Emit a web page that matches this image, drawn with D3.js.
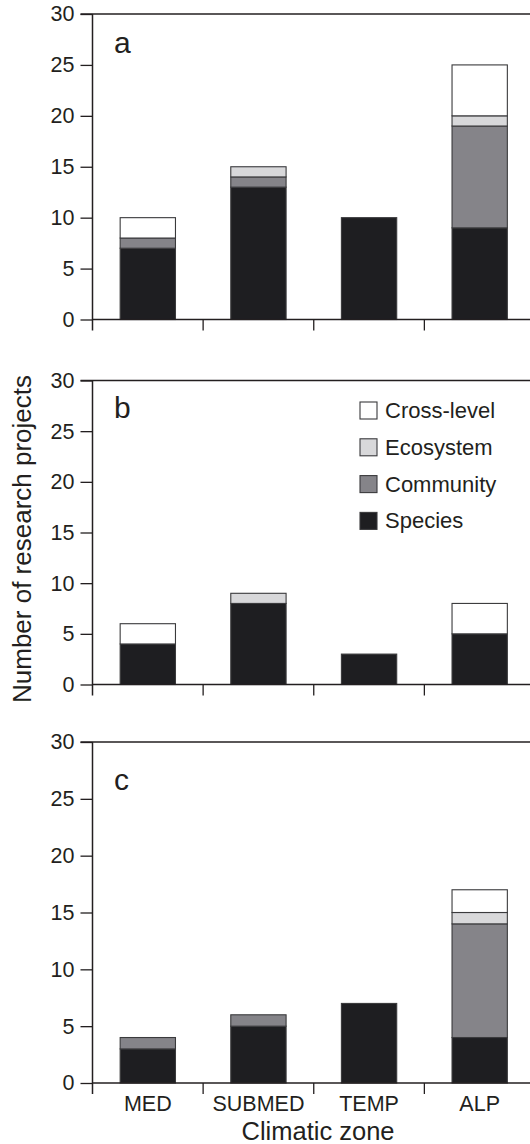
<!DOCTYPE html>
<html>
<head>
<meta charset="utf-8">
<script src="https://cdn.jsdelivr.net/npm/d3@7"></script>
<style>
  body { margin: 0; background: #fff; }
  svg { display: block; font-family: "Liberation Sans", Arial, Helvetica, sans-serif; }
  text { fill: #231f20; }
</style>
</head>
<body>
<div id="chart"></div>
<script>
// climatic zones on the x axis
var zones = ["MED", "SUBMED", "TEMP", "ALP"];
// stacking order, bottom to top
var levels = ["Species", "Community", "Ecosystem", "Cross-level"];
var yTicks = [0, 5, 10, 15, 20, 25, 30];

// number of research projects per level, one value per zone
var panelA = {
  "Species":     [7, 13, 10, 9],
  "Community":   [1, 1, 0, 10],
  "Ecosystem":   [0, 1, 0, 1],
  "Cross-level": [2, 0, 0, 5]
};
var panelB = {
  "Species":     [4, 8, 3, 5],
  "Community":   [0, 0, 0, 0],
  "Ecosystem":   [0, 1, 0, 0],
  "Cross-level": [2, 0, 0, 3]
};
var panelC = {
  "Species":     [3, 5, 7, 4],
  "Community":   [1, 1, 0, 10],
  "Ecosystem":   [0, 0, 0, 1],
  "Cross-level": [0, 0, 0, 2]
};

var svgWidth = 530;
var svgHeight = 1144;
var ink = "#231f20";

var fills = {
  "Species": "#1e1e21",
  "Community": "#858489",
  "Ecosystem": "#d8d8da",
  "Cross-level": "#ffffff"
};

var left = 92.5;
var right = 535; // plot runs past the right edge of the picture

// panel layout: top of the 30 line, zero line, letter baseline
var panels = [
  { id: "a", data: panelA, top: 14, bottom: 319.5, labelY: 53 },
  { id: "b", data: panelB, top: 380.5, bottom: 684.5, labelY: 418 },
  { id: "c", data: panelC, top: 742, bottom: 1083, labelY: 790 }
];

var svg = d3.select("#chart")
  .append("svg")
  .attr("width", svgWidth)
  .attr("height", svgHeight);

var xScale = d3.scaleBand()
  .domain(zones)
  .range([left, right])
  .paddingInner(0.5)
  .paddingOuter(0.25);

var step = xScale.step();

var stack = d3.stack().keys(levels);

panels.forEach(function(p) {
  var rows = zones.map(function(z, i) {
    var row = { zone: z };
    levels.forEach(function(l) { row[l] = p.data[l][i]; });
    return row;
  });

  var yScale = d3.scaleLinear()
    .domain([0, 30])
    .range([p.bottom, p.top]);

  var g = svg.append("g");

  // bars
  var series = stack(rows);
  g.selectAll("g.layer")
    .data(series)
    .enter()
    .append("g")
    .attr("class", "layer")
    .attr("fill", function(d) { return fills[d.key]; })
    .selectAll("rect")
    .data(function(d) { return d.filter(function(s) { return s[1] > s[0]; }); })
    .enter()
    .append("rect")
    .attr("x", function(d) { return xScale(d.data.zone); })
    .attr("width", xScale.bandwidth())
    .attr("y", function(d) { return yScale(d[1]); })
    .attr("height", function(d) { return yScale(d[0]) - yScale(d[1]); })
    .attr("stroke", "#3a3a3c")
    .attr("stroke-width", 1.1);

  // y axis
  var yAxis = d3.axisLeft(yScale)
    .tickValues(yTicks)
    .tickSize(12)
    .tickPadding(6);

  var ya = g.append("g")
    .attr("transform", "translate(" + left + ",0)")
    .call(yAxis);
  ya.select(".domain").remove();
  ya.selectAll(".tick line").attr("stroke", ink).attr("stroke-width", 1.3);
  ya.selectAll(".tick text")
    .style("font-size", "21.5px")
    .attr("font-family", null)
    .attr("fill", ink);

  // frame lines: left spine, top line, zero line
  g.append("line")
    .attr("x1", left).attr("x2", left)
    .attr("y1", p.top).attr("y2", p.bottom + 11)
    .attr("stroke", ink).attr("stroke-width", 1.5);
  g.append("line")
    .attr("x1", left - 12).attr("x2", right)
    .attr("y1", p.top).attr("y2", p.top)
    .attr("stroke", ink).attr("stroke-width", 1.5);
  g.append("line")
    .attr("x1", left).attr("x2", right)
    .attr("y1", p.bottom).attr("y2", p.bottom)
    .attr("stroke", ink).attr("stroke-width", 1.5);

  // ticks between zones
  g.selectAll("line.zonetick")
    .data(zones.slice(1))
    .enter()
    .append("line")
    .attr("class", "zonetick")
    .attr("x1", function(d) { return xScale(d) - step * 0.25; })
    .attr("x2", function(d) { return xScale(d) - step * 0.25; })
    .attr("y1", p.bottom)
    .attr("y2", p.bottom + 11)
    .attr("stroke", ink)
    .attr("stroke-width", 1.3);

  // panel letter
  g.append("text")
    .attr("x", 114)
    .attr("y", p.labelY)
    .style("font-size", "30px")
    .text(p.id);

  if (p.id === "b") {
    var legendRows = levels.slice().reverse();
    var lg = g.selectAll("g.legend")
      .data(legendRows)
      .enter()
      .append("g")
      .attr("class", "legend")
      .attr("transform", function(d, i) { return "translate(360," + (402 + i * 36.8) + ")"; });
    lg.append("rect")
      .attr("width", 17)
      .attr("height", 17)
      .attr("fill", function(d) { return fills[d]; })
      .attr("stroke", "#3a3a3c")
      .attr("stroke-width", 1.1);
    lg.append("text")
      .attr("x", 25)
      .attr("y", 16)
      .style("font-size", "22px")
      .text(function(d) { return d; });
  }

  if (p.id === "c") {
    g.selectAll("text.zone")
      .data(zones)
      .enter()
      .append("text")
      .attr("class", "zone")
      .attr("x", function(d) { return xScale(d) + xScale.bandwidth() / 2; })
      .attr("y", 1110.5)
      .attr("text-anchor", "middle")
      .style("font-size", "21.5px")
      .text(function(d) { return d; });

    g.append("text")
      .attr("x", 318)
      .attr("y", 1140)
      .attr("text-anchor", "middle")
      .style("font-size", "25.5px")
      .text("Climatic zone");
  }
});

// shared y title
svg.append("text")
  .attr("transform", "translate(31,539) rotate(-90)")
  .attr("text-anchor", "middle")
  .style("font-size", "26px")
  .text("Number of research projects");
</script>
</body>
</html>
